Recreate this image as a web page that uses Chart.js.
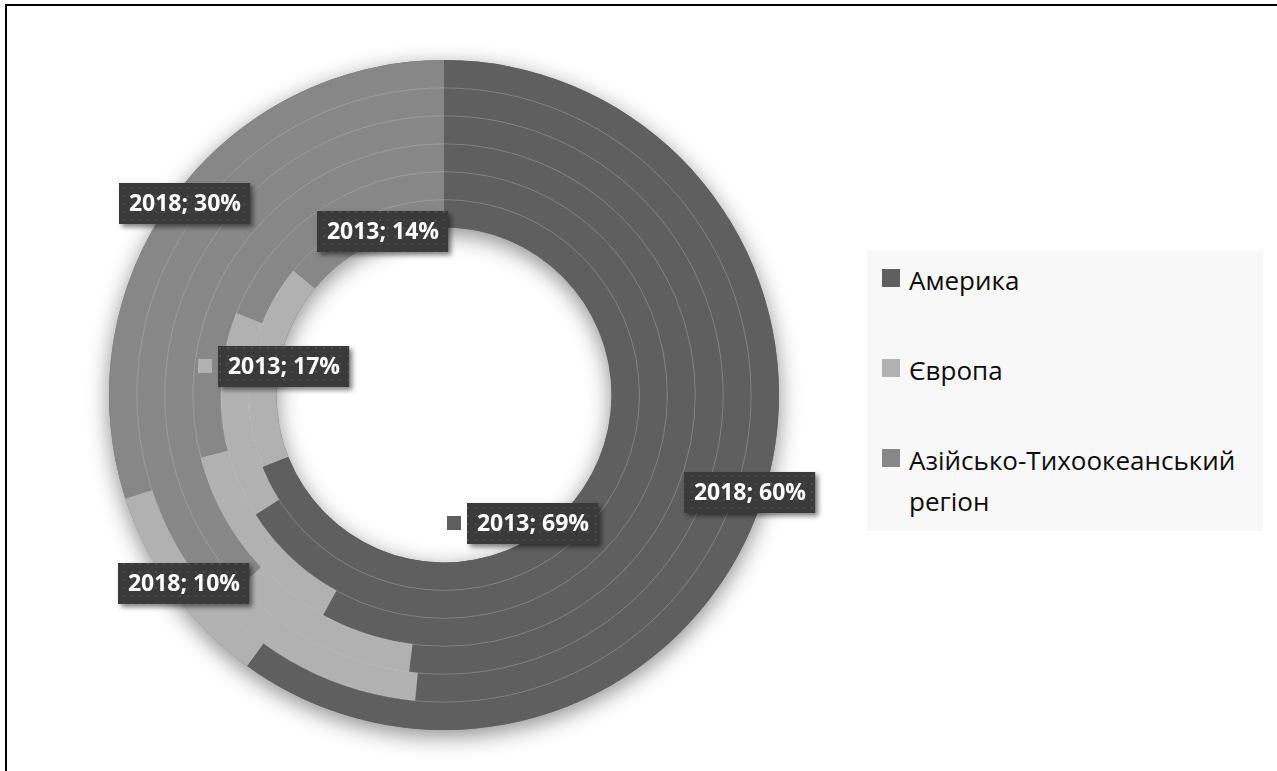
<!DOCTYPE html>
<html lang="uk">
<head>
<meta charset="utf-8">
<title>Регіони</title>
<script src="https://cdn.jsdelivr.net/npm/chart.js@4/dist/chart.umd.min.js"></script>
<style>
  html, body { margin: 0; padding: 0; background: #fff; overflow: hidden; }
  body { width: 1277px; height: 771px; position: relative; font-family: "Open Sans", "Noto Sans", sans-serif; }
  #frame { position: absolute; left: 5px; top: 4px; width: 1300px; height: 800px; border: 2px solid #000; box-sizing: border-box; }
  #chart { position: absolute; left: 0; top: 0; }
  #legend { position: absolute; left: 867px; top: 250px; width: 396px; height: 281px; background: #f8f8f8;
            box-sizing: border-box; padding: 10px 8px 0 15px; }
  .item { display: flex; align-items: flex-start; margin-bottom: 49px; font-size: 26px; line-height: 41px; color: #0d0d0d; }
  .sw { flex: none; width: 18px; height: 18px; margin: 9px 9px 0 0; }
</style>
</head>
<body>
<div id="frame"></div>
<canvas id="chart" width="1277" height="771"></canvas>
<div id="legend"></div>
<script>
// дані
const categories = ['Америка', 'Європа', 'Азійсько-Тихоокеанський регіон'];
const years = ['2013', '2014', '2015', '2016', '2017', '2018'];
const america = [69, 66, 58, 52, 51.5, 60];
const europe = [17, 15, 13, 11, 12, 10];
const asiaPacific = [14, 19, 29, 37, 36.5, 30];

const COLORS = ['#5f5f5f', '#b1b1b1', '#878787'];

// підписи: рік, категорія, зсув від центру, чи з ключем
const LABELS = [
  { year: '2018', cat: 2, dx: -259, dy: -192, key: false },
  { year: '2013', cat: 2, dx: -61,  dy: -164, key: false },
  { year: '2013', cat: 1, dx: -160, dy: -29,  key: true },
  { year: '2018', cat: 0, dx: 306,  dy: 97,   key: false },
  { year: '2013', cat: 0, dx: 89,   dy: 128,  key: true },
  { year: '2018', cat: 1, dx: -260, dy: 188,  key: false }
];

const series = [america, europe, asiaPacific];

// outer ring = dataset 0, so newest year goes first
const datasets = years.map((y, i) => ({
  label: y,
  data: series.map(s => s[i]),
  backgroundColor: COLORS,
  borderWidth: 0
})).reverse();

function makePattern(ctx){
  const c = document.createElement('canvas');
  c.width = 8; c.height = 8;
  const p = c.getContext('2d');
  p.fillStyle = '#3a3a3a'; p.fillRect(0, 0, 8, 8);
  p.fillStyle = '#4a4a4a'; p.fillRect(3, 3, 2, 2);
  return ctx.createPattern(c, 'repeat');
}

const ringShadow = {
  id: 'ringShadow',
  beforeDatasetsDraw(chart){
    const ctx = chart.ctx;
    const outer = chart.getDatasetMeta(0).data[0];
    const inner = chart.getDatasetMeta(chart.data.datasets.length - 1).data[0];
    ctx.save();
    ctx.shadowColor = 'rgba(0,0,0,0.45)';
    ctx.shadowBlur = 22;
    ctx.shadowOffsetY = 6;
    ctx.fillStyle = '#777';
    ctx.beginPath();
    ctx.arc(outer.x, outer.y, outer.outerRadius, 0, Math.PI * 2);
    ctx.arc(outer.x, outer.y, inner.innerRadius, 0, Math.PI * 2, true);
    ctx.fill();
    ctx.restore();
  },
  afterDatasetsDraw(chart){
    const ctx = chart.ctx;
    ctx.save();
    ctx.strokeStyle = 'rgba(255,255,255,0.25)';
    ctx.lineWidth = 0.8;
    for (let d = 1; d < chart.data.datasets.length; d++) {
      const a = chart.getDatasetMeta(d).data[0];
      ctx.beginPath();
      ctx.arc(a.x, a.y, a.outerRadius, 0, Math.PI * 2);
      ctx.stroke();
    }
    ctx.restore();
  }
};

const boxLabels = {
  id: 'boxLabels',
  afterDraw(chart){
    const ctx = chart.ctx;
    const pat = makePattern(ctx);
    LABELS.forEach(l => {
      const yi = years.indexOf(l.year);
      const di = years.length - 1 - yi;
      const arc = chart.getDatasetMeta(di).data[l.cat];
      const val = chart.data.datasets[di].data[l.cat];
      const text = l.year + '; ' + val + '%';
      ctx.save();
      ctx.font = 'bold 23px "Open Sans"';
      const w = ctx.measureText(text).width + 19;
      const h = 41;
      const cx = arc.x + l.dx, cy = arc.y + l.dy;
      const x0 = Math.round(cx - w / 2), y0 = Math.round(cy - h / 2);
      ctx.shadowColor = 'rgba(0,0,0,0.5)';
      ctx.shadowBlur = 5;
      ctx.shadowOffsetX = 3;
      ctx.shadowOffsetY = 3;
      ctx.fillStyle = pat;
      ctx.fillRect(x0, y0, w, h);
      ctx.shadowColor = 'transparent';
      if (l.key) {
        ctx.fillStyle = COLORS[l.cat];
        ctx.fillRect(x0 - 20, Math.round(cy - 7), 14, 14);
      }
      ctx.fillStyle = '#fff';
      ctx.textAlign = 'center';
      ctx.textBaseline = 'middle';
      ctx.fillText(text, cx, cy + 1);
      ctx.restore();
    });
  }
};

new Chart(document.getElementById('chart'), {
  type: 'doughnut',
  data: { labels: categories, datasets },
  options: {
    responsive: false,
    animation: false,
    cutout: '50%',
    layout: { padding: { left: 109, top: 60, right: 498, bottom: 41 } },
    plugins: { legend: { display: false }, tooltip: { enabled: false } }
  },
  plugins: [ringShadow, boxLabels]
});

// легенда
const legend = document.getElementById('legend');
categories.forEach((c, i) => {
  const it = document.createElement('div');
  it.className = 'item';
  const sw = document.createElement('span');
  sw.className = 'sw';
  sw.style.background = COLORS[i];
  const tx = document.createElement('span');
  tx.textContent = c;
  it.appendChild(sw); it.appendChild(tx);
  legend.appendChild(it);
});
</script>
</body>
</html>
